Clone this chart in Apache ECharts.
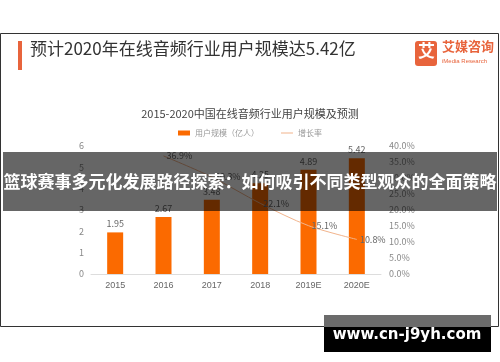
<!DOCTYPE html>
<html><head><meta charset="utf-8">
<script src="https://cdn.jsdelivr.net/npm/echarts@6/dist/echarts.min.js"></script>
<style>html,body{margin:0;padding:0;background:#fff}#c{width:500px;height:362px}</style>
</head><body><div id="c"></div>
<script>
var categories = ['2015','2016','2017','2018','2019E','2020E'];
var userScale = [1.95, 2.67, 3.48, 4.25, 4.89, 5.42];
var growthRate = [null, 36.9, 30.3, 22.1, 15.1, 10.8];
var leftTicks = {min:0, max:6, interval:1};
var rightTicks = {min:0, max:40, interval:5};

var chart = echarts.init(document.getElementById('c'));
var cjk = '"Noto Sans CJK SC", "Noto Sans", sans-serif';
chart.setOption({
  backgroundColor:'#fff',
  animation:false,
  textStyle:{fontFamily:cjk},
  title:{text:'2015-2020中国在线音频行业用户规模及预测', left:'center', top:103,
    textStyle:{fontSize:11, fontWeight:'normal', color:'#444', fontFamily:cjk}},
  legend:{top:124, left:'center', itemGap:22, itemWidth:12, itemHeight:5,
    textStyle:{fontSize:8, color:'#999'},
    data:[{name:'用户规模（亿人）', icon:'rect'},
          {name:'增长率', icon:'path://M0,0 L0.01,0 L0,0.01 Z M0,2 L12,2 L12,3 L0,3 Z M12,5 L11.99,5 L12,4.99 Z'}]},
  grid:{left:91, right:119, top:146, bottom:88},
  xAxis:{type:'category', data:categories,
    axisLine:{lineStyle:{color:'#ddd'}}, axisTick:{show:false},
    axisLabel:{color:'#666', fontSize:9, margin:7, fontFamily:'"Liberation Sans", sans-serif'}},
  yAxis:[
    {type:'value', min:leftTicks.min, max:leftTicks.max, interval:leftTicks.interval,
     splitLine:{show:false}, axisLine:{show:false}, axisTick:{show:false},
     axisLabel:{color:'#888', fontSize:9, margin:7}},
    {type:'value', min:rightTicks.min, max:rightTicks.max, interval:rightTicks.interval,
     splitLine:{show:false}, axisLine:{show:false}, axisTick:{show:false},
     axisLabel:{color:'#888', fontSize:9, margin:8, formatter:function(v){return v.toFixed(1)+'%';}}}
  ],
  series:[
    {name:'用户规模（亿人）', type:'bar', data:userScale, barWidth:16,
     itemStyle:{color:'#fb6a00'},
     label:{show:true, position:'top', distance:4, color:'#666', fontSize:9,
       formatter:function(p){return p.value.toFixed(2);}}},
    {name:'增长率', type:'line', yAxisIndex:1, data:growthRate, smooth:0.3,
     symbol:'circle', symbolSize:0.1, showSymbol:true,
     lineStyle:{color:'#f2b48c', width:1}, itemStyle:{color:'#f2b48c'},
     label:{show:true, position:'right', distance:3, color:'#666', fontSize:9,
       formatter:function(p){return p.value==null?'':p.value.toFixed(1)+'%';}}}
  ],
  graphic:[
    {type:'rect', shape:{x:0.5, y:33.5, width:498, height:293}, style:{fill:'none', stroke:'#333', lineWidth:1}, z:1},
    {type:'rect', shape:{x:18, y:41, width:4, height:29}, style:{fill:'#e8643c'}},
    {type:'text', left:30, top:40, style:{text:'预计2020年在线音频行业用户规模达5.42亿', fontSize:17, fill:'#333', fontFamily:cjk}},
    {type:'rect', shape:{x:415, y:41, width:22, height:25, r:3}, style:{fill:'#e8643c'}},
    {type:'text', left:418, top:42, style:{text:'艾', fontSize:17, fill:'#fff', fontWeight:'bold', fontFamily:cjk}},
    {type:'text', left:442, top:40, style:{text:'艾媒咨询', fontSize:13, fill:'#e8643c', fontWeight:'bold', fontFamily:cjk}},
    {type:'text', left:442, top:58, style:{text:'iMedia Research', fontSize:6, fill:'#e8643c', fontFamily:'"Liberation Sans", sans-serif'}},
    {type:'rect', shape:{x:3, y:152, width:494, height:59}, style:{fill:'rgba(0,0,0,0.6)'}, z:100},
    {type:'text', x:250, y:182, z:101, style:{text:'篮球赛事多元化发展路径探索：如何吸引不同类型观众的全面策略', fontSize:17, fontWeight:'bold', fill:'#fff', align:'center', verticalAlign:'middle', fontFamily:cjk}},
    {type:'rect', shape:{x:324, y:315, width:167, height:12}, style:{fill:'#6b6b6b'}, z:100},
    {type:'rect', shape:{x:324, y:327, width:167, height:25}, style:{fill:'#000'}, z:100},
    {type:'text', x:407, y:335, z:101, style:{text:'www.cn-j9yh.com', fontSize:15, fontWeight:'bold', fill:'#fff', align:'center', verticalAlign:'middle', fontFamily:'"DejaVu Sans", sans-serif'}}
  ]
});
</script></body></html>
